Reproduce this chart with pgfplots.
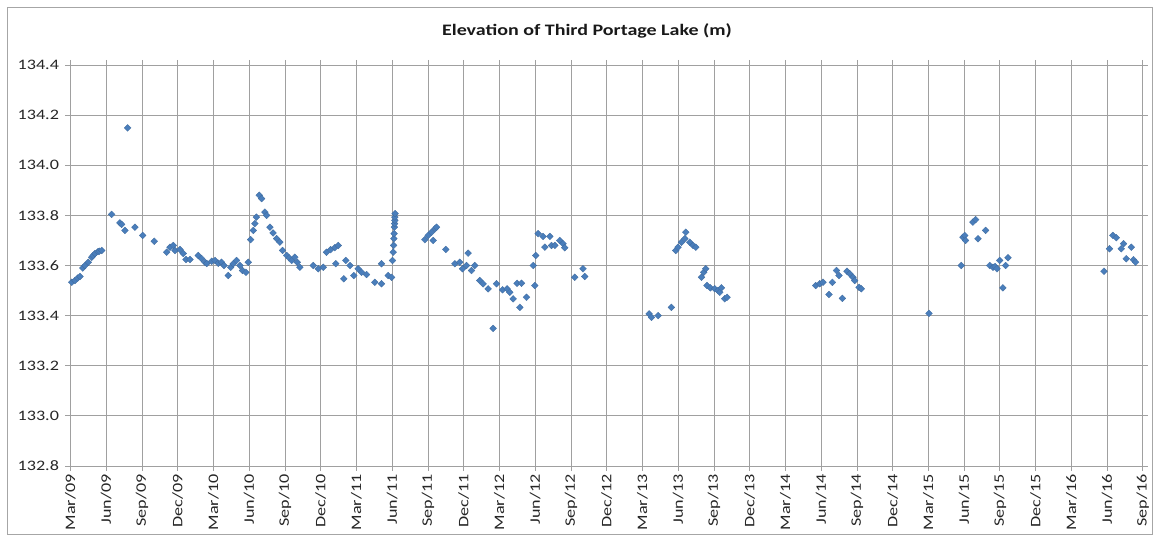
\documentclass[border=0pt]{standalone}
\usepackage{fontspec}
\setmainfont[FakeStretch=1.25]{Carlito}
\usepackage{pgfplots}
\pgfplotsset{compat=1.18}
\definecolor{pt}{HTML}{4A7EBB}
\definecolor{gridc}{HTML}{A0A0A0}
\definecolor{framec}{HTML}{A6A6A6}
\newcommand\lbl{\fontsize{14.5bp}{16bp}\selectfont}
\newcommand\ttl{\fontsize{16bp}{18bp}\selectfont\bfseries}
\begin{document}
\begin{tikzpicture}
\begin{axis}[
  name=ax,
  at={(0,0)}, anchor=south west,
  width=1072.5bp, height=401bp, scale only axis,
  xmin=0, xmax=90, ymin=132.8, ymax=134.4,
  xtick={0,3,...,90},
  xticklabels={Mar/09,Jun/09,Sep/09,Dec/09,Mar/10,Jun/10,Sep/10,Dec/10,Mar/11,Jun/11,Sep/11,Dec/11,Mar/12,Jun/12,Sep/12,Dec/12,Mar/13,Jun/13,Sep/13,Dec/13,Mar/14,Jun/14,Sep/14,Dec/14,Mar/15,Jun/15,Sep/15,Dec/15,Mar/16,Jun/16,Sep/16},
  ytick={132.8,133.0,133.2,133.4,133.6,133.8,134.0,134.2,134.4},
  /pgf/number format/assume math mode=true,
  yticklabel style={/pgf/number format/fixed, /pgf/number format/fixed zerofill, /pgf/number format/precision=1, font=\lbl, text=black!85, xshift=-3bp},
  xticklabel style={rotate=90, anchor=east, font=\lbl, text=black!85},
  grid=major,
  major grid style={gridc, line width=0.8bp},
  axis line style={gridc, line width=0.8bp},
  tick align=outside, major tick length=5bp,
  tick style={gridc, line width=0.8bp},
  clip=false,
]
\addplot[only marks, mark=square*, mark size=2.4bp,
  mark options={rotate=45, fill=pt, draw=pt!85!black, line width=0.3bp}] coordinates {
(0.1,133.533) (0.38,133.54) (0.6,133.55) (0.8,133.556) (1.02,133.59) (1.22,133.60)
(1.49,133.613) (1.78,133.633) (1.9,133.64) (2.06,133.648) (2.3,133.655) (2.42,133.657) (2.62,133.66)
(3.46,133.804) (4.15,133.77) (4.29,133.764) (4.57,133.74) (4.8,134.149) (5.41,133.753)
(6.06,133.72) (7.03,133.697) (8.07,133.653) (8.35,133.673) (8.63,133.68) (8.77,133.66)
(9.19,133.664) (9.46,133.648) (9.69,133.624) (10.03,133.624) (10.72,133.64) (11.0,133.628)
(11.28,133.613) (11.43,133.608) (11.85,133.617) (12.12,133.62) (12.4,133.609) (12.68,133.613)
(12.88,133.60) (13.24,133.56) (13.44,133.593) (13.66,133.607) (13.94,133.62) (14.22,133.60)
(14.44,133.58) (14.72,133.573) (14.92,133.613)
(15.12,133.703) (15.34,133.74) (15.48,133.767) (15.6,133.793) (15.84,133.88) (16.04,133.867)
(16.32,133.813) (16.46,133.80) (16.74,133.753) (17.0,133.73) (17.3,133.707) (17.57,133.693)
(17.8,133.66) (18.14,133.64) (18.35,133.63) (18.56,133.62) (18.83,133.633) (19.03,133.613)
(19.25,133.593) (20.37,133.60) (20.79,133.587) (21.21,133.593) (21.49,133.653) (21.83,133.663)
(22.19,133.671) (22.47,133.68) (22.27,133.607) (22.94,133.547) (23.11,133.62) (23.45,133.60)
(23.78,133.56) (24.14,133.587) (24.43,133.573) (24.85,133.564) (25.54,133.533) (26.1,133.527)
(26.1,133.607) (26.66,133.56)
(26.95,133.553) (27.03,133.62) (27.08,133.653) (27.12,133.68) (27.14,133.707) (27.16,133.727)
(27.18,133.753) (27.2,133.767) (27.22,133.78) (27.22,133.793) (27.24,133.807)
(29.74,133.703) (30.02,133.72) (30.3,133.733) (30.44,133.70) (30.6,133.747) (30.72,133.753)
(31.5,133.664) (32.26,133.607) (32.67,133.613) (32.9,133.587) (33.24,133.60) (33.37,133.649)
(33.66,133.58) (33.93,133.60) (34.35,133.54) (34.63,133.527) (35.05,133.507) (35.47,133.349)
(35.75,133.527) (36.26,133.503) (36.64,133.507) (36.87,133.493) (37.15,133.467) (37.48,133.529)
(37.71,133.433) (37.85,133.529) (38.27,133.473) (38.83,133.60) (38.97,133.52) (39.05,133.64)
(39.25,133.727) (39.66,133.716) (39.81,133.673) (40.23,133.716) (40.37,133.68) (40.65,133.68)
(41.06,133.70) (41.34,133.687) (41.48,133.671) (42.32,133.553) (43.02,133.587) (43.16,133.556)
(48.56,133.407) (48.76,133.393) (49.31,133.40) (50.43,133.433)
(50.8,133.66) (50.99,133.673) (51.28,133.693) (51.56,133.707) (51.64,133.733) (51.97,133.693)
(52.25,133.68) (52.48,133.673)
(52.96,133.553) (53.15,133.573) (53.31,133.587) (53.42,133.52) (53.7,133.511) (54.07,133.507)
(54.34,133.50) (54.49,133.493) (54.63,133.511) (54.91,133.467) (55.1,133.473)
(62.54,133.52) (62.88,133.527) (63.15,133.533) (63.66,133.484) (63.94,133.533) (64.28,133.58)
(64.5,133.56) (64.78,133.469) (65.17,133.577) (65.4,133.567) (65.67,133.553) (65.81,133.54)
(66.18,133.513) (66.37,133.507)
(72.05,133.409)
(74.76,133.60) (74.9,133.713) (75.05,133.72) (75.12,133.70) (75.74,133.773) (75.97,133.783)
(76.16,133.707) (76.8,133.74)
(77.14,133.60) (77.42,133.593) (77.6,133.596) (77.75,133.587) (77.98,133.62) (78.25,133.511)
(78.48,133.60) (78.68,133.631)
(86.73,133.577) (87.2,133.667) (87.48,133.72) (87.77,133.711) (88.19,133.667) (88.38,133.687)
(88.6,133.627) (89.03,133.673) (89.22,133.623) (89.39,133.613)
};
\end{axis}
\node[font=\ttl, text=black!90] at (516.5bp,435bp) {Elevation of Third Portage Lake (m)};
\draw[framec, line width=0.8bp] (-63.5bp,-68bp) rectangle (1081.5bp,459bp);
\pgfresetboundingbox
\path[use as bounding box] (-70.5bp,-69bp) rectangle (1083.5bp,466bp);
\end{tikzpicture}
\end{document}
